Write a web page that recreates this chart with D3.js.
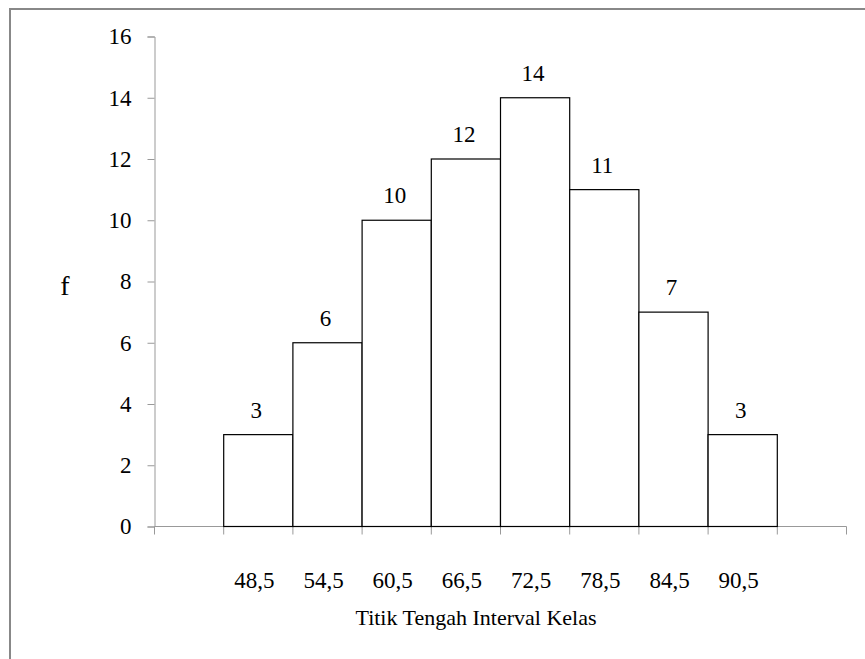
<!DOCTYPE html>
<html>
<head>
<meta charset="utf-8">
<script src="https://cdn.jsdelivr.net/npm/d3@7"></script>
<style>
  body { margin: 0; background: #fff; }
</style>
</head>
<body>
<svg id="chart"></svg>
<script>
// slots on x axis: first and last are empty
const slots = ["s0", "48,5", "54,5", "60,5", "66,5", "72,5", "78,5", "84,5", "90,5", "s9"];
const midpoints = ["48,5", "54,5", "60,5", "66,5", "72,5", "78,5", "84,5", "90,5"];
const frequencies = [3, 6, 10, 12, 14, 11, 7, 3];
const yTicks = [0, 2, 4, 6, 8, 10, 12, 14, 16];

const width = 865;
const height = 659;
const plotLeft = 154.5, plotRight = 846.5, plotTop = 36.5, plotBottom = 526.5;
const serif = "Tinos, 'Liberation Serif', 'DejaVu Serif', serif";

const svg = d3.select("#chart")
    .attr("width", width)
    .attr("height", height)
    .style("font-family", serif);

// outer frame (only left and top visible in the picture)
svg.append("rect")
    .attr("x", 10)
    .attr("y", 9)
    .attr("width", width + 20)
    .attr("height", height + 20)
    .attr("fill", "none")
    .attr("stroke", "#888")
    .attr("stroke-width", 2);

const x = d3.scaleBand()
    .domain(slots)
    .range([plotLeft, plotRight])
    .padding(0);

const y = d3.scaleLinear()
    .domain([0, 16])
    .range([plotBottom, plotTop]);

// y axis
const yAxis = svg.append("g")
    .attr("transform", `translate(${plotLeft},0)`)
    .call(d3.axisLeft(y).tickValues(yTicks).tickSize(7).tickSizeOuter(7).tickPadding(16));
yAxis.attr("font-family", null).attr("font-size", 23);
yAxis.select(".domain").attr("stroke", "#999");
yAxis.selectAll(".tick line").attr("stroke", "#999");
yAxis.selectAll(".tick text").attr("fill", "#000").style("font-family", serif);

// x axis line and ticks at slot boundaries
const boundaries = slots.map(d => x(d)).concat([plotRight]);
svg.append("line")
    .attr("x1", plotLeft).attr("x2", plotRight)
    .attr("y1", plotBottom).attr("y2", plotBottom)
    .attr("stroke", "#999");
svg.append("g")
    .selectAll("line")
    .data(boundaries)
    .join("line")
    .attr("x1", d => d).attr("x2", d => d)
    .attr("y1", plotBottom).attr("y2", plotBottom + 8)
    .attr("stroke", "#999");

// bars
svg.append("g")
    .selectAll("rect")
    .data(frequencies)
    .join("rect")
    .attr("x", (d, i) => x(midpoints[i]))
    .attr("y", d => y(d))
    .attr("width", x.bandwidth())
    .attr("height", d => plotBottom - y(d))
    .attr("fill", "#fff")
    .attr("stroke", "#000")
    .attr("stroke-width", 1.2);

// value labels
svg.append("g")
    .selectAll("text")
    .data(frequencies)
    .join("text")
    .attr("x", (d, i) => x(midpoints[i]) + x.bandwidth() / 2 - 2)
    .attr("y", d => y(d) - 17)
    .attr("text-anchor", "middle")
    .attr("font-size", 23)
    .style("font-family", serif)
    .text(d => d);

// x category labels
svg.append("g")
    .selectAll("text")
    .data(midpoints)
    .join("text")
    .attr("x", d => x(d) + x.bandwidth() / 2 - 4)
    .attr("y", 588)
    .attr("text-anchor", "middle")
    .attr("font-size", 23)
    .style("font-family", serif)
    .text(d => d);

// axis titles
svg.append("text")
    .attr("x", 476)
    .attr("y", 625)
    .attr("text-anchor", "middle")
    .attr("font-size", 22)
    .style("font-family", serif)
    .text("Titik Tengah Interval Kelas");

svg.append("text")
    .attr("x", 65)
    .attr("y", 295)
    .attr("text-anchor", "middle")
    .attr("font-size", 28)
    .style("font-family", serif)
    .text("f");
</script>
</body>
</html>
